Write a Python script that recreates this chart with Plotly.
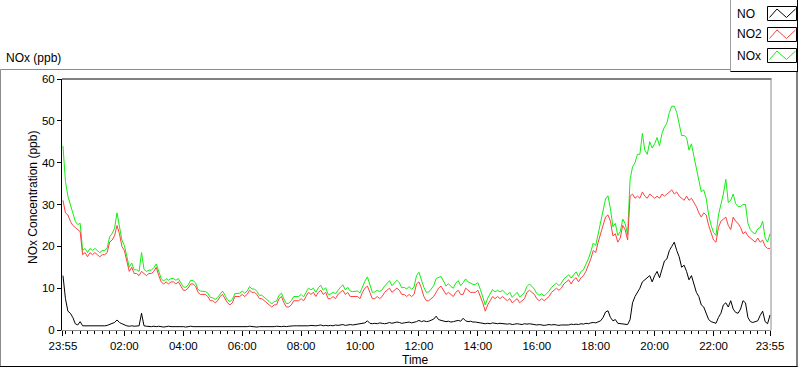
import pandas as pd
import plotly.graph_objects as go

# ---------------- data (5-minute samples, 23:55 -> 23:55 next day) ----------------
start_time = "2013-01-01 23:55"
end_time = "2013-01-02 23:55"
sample_step = "5min"

no_ppb = [
    13, 7.5, 4.5, 4, 3, 1.5, 1.2, 2, 1, 1, 0.9, 1,
    1, 0.9, 1, 1, 0.9, 1, 1.1, 1.3, 1.5, 1.8, 2.4, 1.8,
    1.5, 1.2, 1, 0.9, 1, 0.9, 0.9, 1, 4, 1, 0.9, 0.8,
    0.8, 0.9, 0.8, 0.9, 0.8, 0.7, 0.8, 0.9, 0.8, 0.8, 0.9, 0.8,
    0.8, 0.8, 0.7, 0.8, 0.9, 0.8, 0.8, 0.7, 0.8, 0.8, 0.7, 0.8,
    0.8, 0.7, 0.8, 0.8, 0.7, 0.8, 0.8, 0.7, 0.8, 0.8, 0.7, 0.8,
    0.8, 0.8, 0.8, 0.8, 0.9, 0.8, 0.8, 0.7, 0.8, 0.8, 0.7, 0.8,
    0.8, 0.7, 0.8, 0.9, 0.8, 0.8, 0.9, 0.8, 0.9, 1, 1, 1,
    1, 1, 0.9, 1, 1, 1.1, 1, 1, 1.1, 1.2, 1, 1.1,
    1, 1.1, 1, 1.2, 1.1, 1.2, 1.3, 1.1, 1.2, 1.3, 1.2, 1.3,
    1.3, 1.4, 1.5, 1.7, 2.2, 1.6, 1.5, 1.6, 1.5, 1.7, 1.6, 1.5,
    1.6, 1.8, 1.6, 1.7, 1.9, 1.8, 1.6, 1.7, 1.8, 1.9, 1.7, 1.8,
    2, 2.3, 2, 2.2, 2, 2.1, 2.3, 2.6, 3.3, 2.5, 2.3, 2.2,
    2, 2.1, 1.9, 2, 2.2, 2.3, 2.1, 2.8, 2.2, 2, 2.1, 1.9,
    1.9, 1.8, 1.7, 1.6, 1.5, 1.6, 1.5, 1.7, 1.6, 1.5, 1.6, 1.5,
    1.5, 1.4, 1.5, 1.3, 1.4, 1.5, 1.4, 1.3, 1.5, 1.4, 1.5, 1.4,
    1.3, 1.2, 1.3, 1.2, 1.1, 1.2, 1.3, 1.2, 1.3, 1.2, 1.1, 1.2,
    1.2, 1.3, 1.2, 1.4, 1.3, 1.4, 1.3, 1.5, 1.4, 1.6, 1.5, 1.7,
    1.8, 1.7, 2, 2.2, 3, 4.3, 4.6, 3, 2.2, 2.5, 1.6, 1.5,
    1.5, 1.4, 1.3, 2.5, 6.5, 8, 9, 10, 11.5, 12, 12.5, 13,
    11.5, 13, 14, 12.5, 14.5, 16.5, 17, 19, 20, 21, 19, 17.5,
    15, 15.5, 14, 12, 13, 11, 9, 8, 6, 5.5, 4, 2.5,
    2, 1.8, 1.6, 3, 4, 6, 6.5, 5.5, 7, 5, 4.2, 4,
    5, 7, 6.5, 3, 2, 1.8, 2, 2.2, 3.5, 4.5, 2, 1.5,
    3.6,
]

no2_ppb = [
    31, 28, 27.5, 26, 25, 24.5, 24, 23.5, 18, 18.5, 17.5, 18.5,
    18, 18.5, 18, 17.5, 18, 18, 18.5, 21, 21.5, 22.5, 25, 23,
    20, 19, 16.5, 14, 15, 13.5, 13.5, 13, 14, 13.5, 13, 13.5,
    13.5, 14, 15, 13, 11.5, 11, 11.5, 11, 11.5, 11.5, 11, 11.5,
    10.5, 9.5, 9.5, 10, 11, 11, 10.5, 9, 8.5, 8.5, 8.5, 8,
    7, 7, 6.5, 7, 8, 8.5, 7.5, 6.5, 6, 6.5, 8, 8,
    8, 8.5, 8, 8.5, 9.5, 9, 9, 8.5, 7.5, 7.5, 7, 6.5,
    6, 5.5, 6, 6, 7.5, 8, 6.5, 5.5, 5.5, 6, 7, 7,
    7, 7.5, 7, 8, 9, 8.5, 9, 8, 9, 9.5, 8.5, 9,
    7.5, 7.5, 8, 7.5, 8.5, 9, 9.5, 8.5, 9, 8, 8, 8,
    8, 7.5, 9, 10, 10.5, 9, 7.5, 7.5, 8, 7.5, 8, 9,
    9.5, 10, 9, 9.5, 10, 9.5, 8.5, 8.5, 8, 8.5, 8, 8.5,
    11, 11.5, 10, 8, 7, 7, 7.5, 8, 9, 10, 10.5, 9.5,
    8.5, 9, 8.5, 8, 9, 9.5, 8.5, 8.5, 10, 9.5, 9, 9,
    9, 9.5, 8, 6.5, 4.5, 6, 7, 8, 7.5, 8, 7.5, 8,
    7.5, 7, 7.5, 6.5, 7, 7.5, 6.5, 7, 7.5, 9, 9.5, 9,
    8.5, 7.5, 7, 7.5, 7, 7.5, 8, 9, 9.5, 10, 9.5, 10,
    11, 11.5, 12, 11, 12, 12.5, 11.5, 12.5, 13, 14, 15.5, 17,
    19, 18.5, 21, 23, 25, 27, 27.5, 26, 22.5, 23, 21, 22,
    25, 24, 21.5, 32, 32.5, 31.5, 32, 31.5, 33, 32, 31.5, 32.5,
    32, 31.5, 32, 31.5, 32.5, 32, 32.5, 33, 33.5, 32.5, 33, 32,
    31.5, 31, 32, 31, 31.5, 30.5, 29.5, 28, 27, 28, 27.5, 25,
    23, 21.5, 21, 24.5, 26, 26.5, 27, 25, 24, 27, 26, 25.5,
    24.5, 23, 23.5, 22.5, 22, 21.5, 21, 22, 21, 21.5, 20, 19.5,
    19.5,
]

nox_ppb = [
    44, 35.5, 32, 30, 28, 26, 25.2, 25.5, 19, 19.5, 18.5, 19.5,
    19, 19.5, 19, 18.5, 19, 19, 19.6, 22.3, 23, 24.3, 28, 25,
    21.5, 20.2, 17.5, 15, 16, 14.4, 14.4, 14, 18.5, 14.5, 14, 14.3,
    14.3, 14.9, 15.8, 13.9, 12.3, 11.7, 12.3, 11.9, 12.3, 12.3, 11.9, 12.3,
    11.3, 10.3, 10.2, 10.8, 11.9, 11.8, 11.3, 9.7, 9.3, 9.3, 9.2, 8.8,
    7.8, 7.7, 7.3, 7.8, 8.7, 9.3, 8.3, 7.2, 6.8, 7.3, 8.7, 8.8,
    8.8, 9.3, 8.8, 9.3, 10.4, 9.8, 9.8, 9.2, 8.3, 8.3, 7.7, 7.3,
    6.8, 6.2, 6.8, 6.9, 8.3, 8.8, 7.4, 6.3, 6.4, 7, 8, 8,
    8, 8.5, 7.9, 9, 10, 9.6, 10, 9, 10.1, 10.7, 9.5, 10.1,
    8.5, 8.6, 9, 8.7, 9.6, 10.2, 10.8, 9.6, 10.2, 9.3, 9.2, 9.3,
    9.3, 8.9, 10.5, 11.7, 12.7, 10.6, 9, 9.1, 9.5, 9.2, 9.6, 10.5,
    11.1, 11.8, 10.6, 11.2, 11.9, 11.3, 10.1, 10.2, 9.8, 10.4, 9.7, 10.3,
    13, 13.8, 12, 10.2, 9, 9.1, 9.8, 10.6, 12.3, 12.5, 12.8, 11.7,
    10.5, 11.1, 10.4, 10, 11.2, 11.8, 10.6, 11.3, 12.2, 11.5, 11.1, 10.9,
    10.9, 11.3, 9.7, 8.1, 6, 7.6, 8.5, 9.7, 9.1, 9.5, 9.1, 9.5,
    9, 8.4, 9, 7.8, 8.4, 9, 7.9, 8.3, 9, 10.4, 11, 10.4,
    9.8, 8.7, 8.3, 8.7, 8.1, 8.7, 9.3, 10.2, 10.8, 11.2, 10.6, 11.2,
    12.2, 12.8, 13.2, 12.4, 13.3, 13.9, 12.8, 14, 14.4, 15.6, 17, 18.7,
    20.8, 20.2, 23, 25.2, 28, 31.3, 32.1, 29, 24.7, 25.5, 22.6, 23.5,
    26.5, 25.4, 22.8, 36, 39, 40, 42, 42, 47, 43, 42, 45,
    43.5, 44.5, 46, 44, 47, 48.5, 49.5, 52, 53.5, 53.5, 52, 49.5,
    46.5, 46.5, 46, 43, 44.5, 41.5, 38.5, 36, 33, 33.5, 31.5, 27.5,
    25, 23.3, 22.6, 27.5, 30, 32.5, 36, 30.5, 31, 32.5, 30.2, 29.5,
    29.5, 30, 30, 25.5, 24, 23.3, 23, 24.2, 24.5, 26, 22, 21,
    23,
]

series_names = ["NO", "NO2", "NOx"]
series_colors = ["#000000", "#ff4040", "#12ee12"]

x_tick_times = [
    "2013-01-01 23:55", "2013-01-02 02:00", "2013-01-02 04:00", "2013-01-02 06:00",
    "2013-01-02 08:00", "2013-01-02 10:00", "2013-01-02 12:00", "2013-01-02 14:00",
    "2013-01-02 16:00", "2013-01-02 18:00", "2013-01-02 20:00", "2013-01-02 22:00",
    "2013-01-02 23:55",
]
x_tick_labels = ["23:55", "02:00", "04:00", "06:00", "08:00", "10:00", "12:00",
                 "14:00", "16:00", "18:00", "20:00", "22:00", "23:55"]
y_tick_values = [0, 10, 20, 30, 40, 50, 60]

# ---------------- figure ----------------
times = pd.date_range(start_time, periods=len(no_ppb), freq=sample_step)
minor_ticks = pd.date_range("2013-01-02 00:00", "2013-01-02 23:45", freq="15min")

W, H = 800, 369
ML, MR, MT, MB = 62, 29, 79, 39
PW, PH = W - ML - MR, H - MT - MB
FONT = "Liberation Sans, Arial, sans-serif"


def fx(px):
    return (px - ML) / PW


def fy(py):
    return (H - MB - py) / PH


fig = go.Figure()
values = {"NO": no_ppb, "NO2": no2_ppb, "NOx": nox_ppb}
for name in ["NOx", "NO2", "NO"]:
    col = series_colors[series_names.index(name)]
    fig.add_trace(go.Scatter(x=times, y=values[name], mode="lines", name=name,
                             line=dict(color=col, width=1), showlegend=False))

rng0 = pd.Timestamp(start_time) - pd.Timedelta(minutes=2)
rng1 = pd.Timestamp(end_time) + pd.Timedelta(minutes=2)

fig.update_layout(
    width=W, height=H,
    margin=dict(l=ML, r=MR, t=MT, b=MB, pad=0),
    paper_bgcolor="white", plot_bgcolor="white",
    font=dict(family=FONT, size=11, color="#000000"),
    showlegend=False,
    xaxis=dict(
        type="date", range=[rng0, rng1],
        tickmode="array", tickvals=x_tick_times, ticktext=x_tick_labels,
        ticks="outside", ticklen=5, tickcolor="#000000", tickwidth=1,
        showline=True, linecolor="#8c8c8c", linewidth=1,
        showgrid=False, zeroline=False,
        tickfont=dict(size=11.5),
        minor=dict(tickmode="array", tickvals=list(minor_ticks), ticks="outside",
                   ticklen=3, tickcolor="#000000", showgrid=False),
    ),
    yaxis=dict(
        range=[0, 60], tickmode="array", tickvals=y_tick_values,
        ticks="outside", ticklen=4, tickcolor="#000000",
        showline=True, linecolor="#000000", linewidth=1,
        showgrid=False, zeroline=False, tickfont=dict(size=11.5),
    ),
)

shapes = []
# outer frame
shapes.append(dict(type="line", xref="paper", yref="paper", x0=fx(0.5), x1=fx(797), y0=fy(69.5), y1=fy(69.5),
                   line=dict(color="#8c8c8c", width=1)))
shapes.append(dict(type="line", xref="paper", yref="paper", x0=fx(0.5), x1=fx(0.5), y0=fy(69.5), y1=fy(366.5),
                   line=dict(color="#8c8c8c", width=1)))
shapes.append(dict(type="line", xref="paper", yref="paper", x0=fx(797), x1=fx(797), y0=fy(69.5), y1=fy(367),
                   line=dict(color="#000000", width=1)))
shapes.append(dict(type="line", xref="paper", yref="paper", x0=fx(0), x1=fx(797.5), y0=fy(366.5), y1=fy(366.5),
                   line=dict(color="#000000", width=1)))
# plot frame top (black) and right (gray)
shapes.append(dict(type="line", xref="paper", yref="paper", x0=fx(62), x1=fx(771.5), y0=1, y1=1,
                   line=dict(color="#000000", width=1)))
shapes.append(dict(type="line", xref="paper", yref="paper", x0=1, x1=1, y0=0, y1=1,
                   line=dict(color="#8c8c8c", width=1)))
# legend box
shapes.append(dict(type="rect", xref="paper", yref="paper", x0=fx(730.5), x1=fx(798), y0=fy(0), y1=fy(71.5),
                   fillcolor="white", line=dict(width=0)))
shapes.append(dict(type="line", xref="paper", yref="paper", x0=fx(730.5), x1=fx(730.5), y0=fy(0), y1=fy(71.5),
                   line=dict(color="#a0a0a0", width=1)))
shapes.append(dict(type="line", xref="paper", yref="paper", x0=fx(730.5), x1=fx(798), y0=fy(71.5), y1=fy(71.5),
                   line=dict(color="#000000", width=1)))
shapes.append(dict(type="line", xref="paper", yref="paper", x0=fx(797.5), x1=fx(797.5), y0=fy(0), y1=fy(71.5),
                   line=dict(color="#000000", width=1)))

annotations = []
row_tops = [6.5, 27.5, 48.5]
row_h = 14
for name, col, top in zip(series_names, series_colors, row_tops):
    bx0, bx1 = 767.5, 796.5
    shapes.append(dict(type="rect", xref="paper", yref="paper", x0=fx(bx0), x1=fx(bx1),
                       y0=fy(top), y1=fy(top + row_h), fillcolor="white",
                       line=dict(color="#000000", width=1)))
    pts = [(bx0 + 2, top + row_h - 3), (bx0 + 9.5, top + 2.5), (bx0 + 19, top + row_h - 3), (bx0 + 28, top + 2.5)]
    path = "M " + " L ".join(f"{fx(a):.5f},{fy(b):.5f}" for a, b in pts)
    shapes.append(dict(type="path", xref="paper", yref="paper", path=path,
                       line=dict(color=col, width=1)))
    annotations.append(dict(text=name, xref="paper", yref="paper", x=fx(735), y=fy(top + row_h / 2),
                            xanchor="left", yanchor="middle", showarrow=False,
                            font=dict(size=12, color="#000000")))

annotations.append(dict(text="NOx (ppb)", xref="paper", yref="paper", x=fx(4), y=fy(58),
                        xanchor="left", yanchor="middle", showarrow=False, font=dict(size=12)))
annotations.append(dict(text="NOx Concentration (ppb)", xref="paper", yref="paper", x=fx(33), y=fy(198),
                        xanchor="center", yanchor="middle", textangle=-90, showarrow=False,
                        font=dict(size=12)))
annotations.append(dict(text="Time", xref="paper", yref="paper", x=fx(415), y=fy(360),
                        xanchor="center", yanchor="middle", showarrow=False, font=dict(size=12)))

fig.update_layout(shapes=shapes, annotations=annotations)
fig.write_html(
    "out.html",
    config={"displayModeBar": False},
    post_script="document.body.style.margin='0';document.body.style.padding='0';"
                "document.body.style.overflow='hidden';",
)
